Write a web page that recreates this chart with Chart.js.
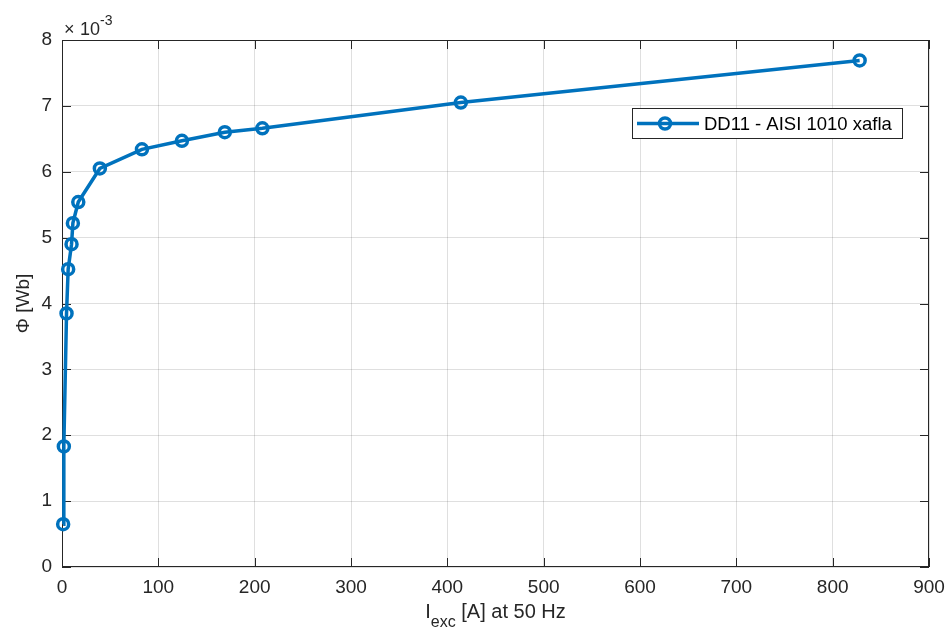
<html lang="">
<head>
    <title>Flux vs excitation current</title>
    <script src="https://cdn.jsdelivr.net/npm/chart.js@4.4.0/dist/chart.umd.min.js"></script>
    <style>
        body { margin: 0; background: #fff; }
    </style>
</head>
<body>
<canvas id="flux-chart" width="948" height="639"></canvas>
<script>
    // excitation current [A] and flux [Wb]
    const currentA = [1.2, 1.9, 4.7, 6.4, 9.9, 11.3, 16.9, 39.3, 83, 124.5, 169, 208, 414, 828];
    const fluxWb = [0.00065, 0.00183, 0.00385, 0.00452, 0.00490, 0.00522, 0.00554, 0.00605,
        0.00634, 0.00647, 0.00660, 0.00666, 0.00705, 0.00769];
    const xTicks = [0, 100, 200, 300, 400, 500, 600, 700, 800, 900];
    const yTicks = [0, 1, 2, 3, 4, 5, 6, 7, 8];
    const seriesName = 'DD11 - AISI 1010 xafla';

    const blue = '#0072BD';
    const axisColor = '#262626';
    const fontFamily = '"Liberation Sans", Arial, Helvetica, sans-serif';

    const points = currentA.map((x, i) => ({x: x, y: fluxWb[i]}));

    // box, inward ticks, exponent, x label with subscript and the legend
    const matlabLook = {
        id: 'matlabLook',
        beforeDatasetsDraw(chart) {
            const ctx = chart.ctx;
            const a = chart.chartArea;
            const xs = chart.scales.x;
            const ys = chart.scales.y;
            ctx.save();
            ctx.strokeStyle = axisColor;
            ctx.lineWidth = 1;
            ctx.strokeRect(a.left + 0.5, a.top + 0.5, a.right - a.left - 1, a.bottom - a.top - 1);
            ctx.beginPath();
            xTicks.forEach(v => {
                const px = Math.round(xs.getPixelForValue(v)) + 0.5;
                ctx.moveTo(px, a.bottom); ctx.lineTo(px, a.bottom - 9);
                ctx.moveTo(px, a.top); ctx.lineTo(px, a.top + 9);
            });
            yTicks.forEach(v => {
                const py = Math.round(ys.getPixelForValue(v / 1000)) + 0.5;
                ctx.moveTo(a.left, py); ctx.lineTo(a.left + 9, py);
                ctx.moveTo(a.right, py); ctx.lineTo(a.right - 9, py);
            });
            ctx.stroke();
            ctx.restore();
        },
        afterDraw(chart) {
            const ctx = chart.ctx;
            const a = chart.chartArea;
            ctx.save();

            // exponent label
            ctx.fillStyle = axisColor;
            ctx.textBaseline = 'alphabetic';
            ctx.textAlign = 'left';
            ctx.font = '18px ' + fontFamily;
            ctx.fillText('\u00d7', a.left + 2, a.top - 5);
            ctx.fillText('10', a.left + 18, a.top - 5);
            const w10 = ctx.measureText('10').width;
            ctx.font = '14px ' + fontFamily;
            ctx.fillText('-3', a.left + 18 + w10, a.top - 15);

            // x axis label: I_exc [A] at 50 Hz
            const big = '20px ' + fontFamily;
            const small = '16px ' + fontFamily;
            ctx.font = big;
            const wI = ctx.measureText('I').width;
            const wRest = ctx.measureText(' [A] at 50 Hz').width;
            ctx.font = small;
            const wSub = ctx.measureText('exc').width;
            const total = wI + wSub + wRest;
            let x0 = (a.left + a.right) / 2 - total / 2;
            const base = 618;
            ctx.font = big;
            ctx.fillText('I', x0, base);
            ctx.font = small;
            ctx.fillText('exc', x0 + wI, base + 9);
            ctx.font = big;
            ctx.fillText(' [A] at 50 Hz', x0 + wI + wSub, base);

            // legend
            const lx = 632, ly = 108, lw = 270, lh = 30;
            ctx.fillStyle = '#fff';
            ctx.fillRect(lx, ly, lw, lh);
            ctx.strokeStyle = axisColor;
            ctx.lineWidth = 1;
            ctx.strokeRect(lx + 0.5, ly + 0.5, lw, lh);
            const cy = ly + lh / 2 + 0.5;
            ctx.strokeStyle = blue;
            ctx.lineWidth = 3.5;
            ctx.beginPath();
            ctx.moveTo(637, cy); ctx.lineTo(699, cy);
            ctx.stroke();
            ctx.beginPath();
            ctx.arc(665, cy, 5.5, 0, Math.PI * 2);
            ctx.stroke();
            ctx.fillStyle = '#000';
            ctx.font = '18.5px ' + fontFamily;
            ctx.textBaseline = 'middle';
            ctx.fillText(seriesName, 704, cy + 1);
            ctx.restore();
        }
    };

    const chart = new Chart(document.getElementById('flux-chart'), {
        type: 'line',
        data: {
            datasets: [{
                label: seriesName,
                data: points,
                borderColor: blue,
                borderWidth: 3.5,
                pointRadius: 5.5,
                pointBorderWidth: 3.5,
                pointBackgroundColor: 'rgba(0,0,0,0)',
                pointBorderColor: blue,
                tension: 0,
                fill: false,
                clip: false
            }]
        },
        plugins: [matlabLook],
        options: {
            responsive: false,
            animation: false,
            layout: {padding: {top: 40, right: 19, left: 12, bottom: 0}},
            plugins: {
                legend: {display: false},
                tooltip: {enabled: false}
            },
            scales: {
                x: {
                    type: 'linear',
                    min: 0,
                    max: 900,
                    afterBuildTicks: s => { s.ticks = xTicks.map(v => ({value: v})); },
                    afterFit: s => {
                        s.height = 72;
                        s.paddingLeft = 0;
                        s.paddingRight = 0;
                    },
                    grid: {color: 'rgba(38,38,38,0.15)', drawTicks: false},
                    border: {display: false},
                    ticks: {
                        color: axisColor,
                        padding: 9,
                        maxRotation: 0,
                        font: {size: 19, family: fontFamily}
                    }
                },
                y: {
                    min: 0,
                    max: 0.008,
                    afterBuildTicks: s => { s.ticks = yTicks.map(v => ({value: v / 1000})); },
                    afterFit: s => {
                        s.width = 50;
                        s.paddingTop = 0;
                        s.paddingBottom = 0;
                    },
                    grid: {color: 'rgba(38,38,38,0.15)', drawTicks: false},
                    border: {display: false},
                    ticks: {
                        color: axisColor,
                        padding: 10,
                        font: {size: 19, family: fontFamily},
                        callback: v => String(Math.round(v * 1000))
                    },
                    title: {
                        display: true,
                        text: '\u03a6 [Wb]',
                        color: axisColor,
                        padding: {top: 0, bottom: 0},
                        font: {size: 19, family: fontFamily}
                    }
                }
            }
        }
    });
</script>
</body>
</html>
